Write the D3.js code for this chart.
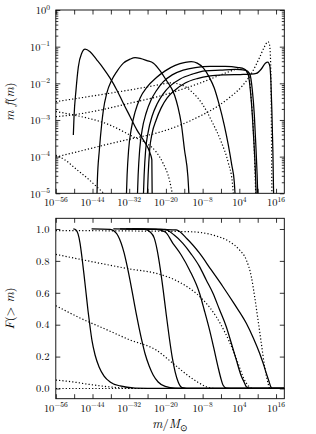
<!DOCTYPE html>
<html>
<head>
<meta charset="utf-8">
<script src="https://cdn.jsdelivr.net/npm/d3@7"></script>
<style>
  body { margin: 0; background: #fff; }
  svg { display: block; }
  text { font-family: 'Latin Modern Roman', 'Liberation Serif', serif; fill: #000; }
</style>
</head>
<body>
<svg id="chart" width="316" height="434"></svg>
<script>
// all pairs are [log10(m/Msun), value]; top panel value is log10(m f(m)), bottom is F(>m)

// top panel, solid lines
var mfA = [[-50.27,-3.41],[-50.04,-2.91],[-49.39,-2.18],[-48.63,-1.55],[-47.52,-1.18],[-46.44,-1.07],[-44.8,-1.14],[-42.61,-1.36],[-40.45,-1.59],[-38.25,-1.86],[-36.06,-2.18],[-33.9,-2.55],[-31.7,-2.91],[-29.51,-3.27],[-27.35,-3.55],[-25.16,-3.91],[-24.6,-4.09],[-24.45,-5.5]];
var mfB = [[-42.7,-5.5],[-42.41,-4.64],[-41.76,-3.82],[-40.97,-3.09],[-40.45,-2.73],[-39.33,-2.27],[-37.7,-1.91],[-36.06,-1.68],[-33.9,-1.45],[-31.7,-1.34],[-30.07,-1.30],[-28.43,-1.32],[-26.24,-1.38],[-24.07,-1.45],[-21.88,-1.66],[-19.92,-1.91],[-17.2,-2.32],[-16.08,-2.64],[-15.0,-3.09],[-13.92,-3.82],[-12.81,-4.55],[-12.2,-5.5]];
var mfC = [[-33.1,-5.5],[-32.69,-4.50],[-32.20,-3.82],[-31.38,-3.27],[-30.07,-2.78],[-28.43,-2.40],[-26.14,-2.10],[-23.19,-1.85],[-20.24,-1.66],[-16.97,-1.51],[-13.69,-1.43],[-11.73,-1.41],[-9.77,-1.45],[-7.80,-1.58],[-5.84,-1.83],[-4.20,-2.13],[-2.56,-2.59],[-0.93,-3.14],[0.39,-3.68],[1.53,-4.23],[2.35,-4.69],[2.9,-5.5]];
var mfD = [[-29.5,-5.5],[-29.08,-4.50],[-28.59,-3.82],[-27.77,-3.27],[-26.46,-2.81],[-24.83,-2.45],[-23.19,-2.21],[-20.90,-1.96],[-17.95,-1.77],[-14.35,-1.64],[-10.42,-1.57],[-5.51,-1.54],[-0.60,-1.54],[3.66,-1.57],[5.62,-1.61],[6.93,-1.77],[7.59,-2.18],[8.24,-2.86],[8.73,-3.55],[9.23,-4.36],[9.7,-5.5]];
var mfE = [[-27.55,-5.5],[-27.12,-4.50],[-26.63,-3.82],[-25.81,-3.33],[-24.50,-2.89],[-22.86,-2.56],[-20.90,-2.29],[-18.61,-2.07],[-15.33,-1.88],[-11.40,-1.75],[-7.15,-1.66],[-2.23,-1.64],[2.68,-1.62],[5.95,-1.64],[7.43,-1.75],[8.24,-2.18],[8.90,-2.86],[9.39,-3.68],[9.82,-4.50],[10.2,-5.5]];
var mfF = [[-26.25,-5.5],[-25.81,-4.50],[-25.32,-3.82],[-24.50,-3.36],[-23.19,-3.00],[-21.55,-2.67],[-19.59,-2.40],[-16.97,-2.18],[-13.69,-1.99],[-9.77,-1.87],[-5.51,-1.80],[-0.60,-1.77],[4.31,-1.76],[7.59,-1.75],[9.55,-1.73],[11.19,-1.61],[12.50,-1.45],[13.32,-1.42],[13.97,-1.53],[14.30,-1.91],[14.63,-2.73],[14.96,-3.82],[15.3,-5.5]];

// top panel, dotted lines
var mfDot1 = [[-56,-2.50],[-48.08,-2.40],[-39.89,-2.29],[-31.70,-2.18],[-22.96,-2.05],[-18.61,-1.99],[-14.68,-2.05],[-11.40,-2.24],[-8.13,-2.56],[-4.85,-3.06],[-1.91,-3.60],[0.39,-4.17],[1.69,-4.69],[2.5,-5.5]];
var mfDot2 = [[-56,-2.91],[-50.37,-2.86],[-41.53,-2.73],[-31.70,-2.54],[-22.96,-2.37],[-15.33,-2.18],[-8.78,-1.99],[-3.87,-1.83],[0.39,-1.69],[3.66,-1.61],[5.95,-1.64],[7.26,-1.85],[7.91,-2.45],[8.57,-3.27],[9.06,-4.23],[9.5,-5.5]];
var mfDot3 = [[-56,-2.77],[-50.37,-2.86],[-38.25,-3.14],[-30.62,-3.46],[-26.24,-3.64],[-23.19,-3.87],[-21.0,-4.17],[-18.84,-4.64],[-16.9,-5.5]];
var mfDot4 = [[-56,-4.01],[-48.08,-3.85],[-39.89,-3.68],[-31.70,-3.52],[-23.19,-3.36],[-15.33,-3.14],[-8.78,-2.89],[-3.54,-2.65],[1.04,-2.37],[4.97,-2.07],[8.24,-1.69],[10.54,-1.31],[12.17,-1.01],[13.39,-0.865],[13.81,-0.93],[14.14,-1.23],[14.33,-1.91],[14.47,-3.00],[14.56,-4.09],[14.7,-5.5]];
var mfDot5 = [[-56,-3.96],[-52.99,-4.09],[-49.06,-4.36],[-45.78,-4.58],[-42.51,-4.83],[-39.0,-5.1]];

// bottom panel, solid lines
var cfA = [[-50.27,1.0],[-49.39,0.994],[-48.73,0.969],[-48.08,0.912],[-47.42,0.818],[-46.77,0.712],[-46.11,0.599],[-45.46,0.486],[-44.80,0.386],[-44.15,0.298],[-43.16,0.210],[-41.85,0.135],[-40.22,0.078],[-38.25,0.041],[-34.98,0.016],[-30.07,0.003],[-21.88,0],[18.7,0]];
var cfB = [[-44.3,1.0],[-38.25,0.997],[-36.94,0.987],[-35.63,0.956],[-34.65,0.912],[-33.67,0.850],[-32.69,0.768],[-31.70,0.674],[-30.72,0.574],[-29.74,0.473],[-28.76,0.379],[-27.77,0.292],[-26.79,0.216],[-25.48,0.141],[-24.17,0.085],[-22.54,0.041],[-20.24,0.013],[-16.97,0.002],[-8.78,0],[18.7,0]];
var cfC = [[-37.2,1.0],[-26.79,0.997],[-25.16,0.981],[-23.84,0.944],[-22.86,0.868],[-21.88,0.755],[-20.90,0.618],[-19.92,0.467],[-18.93,0.323],[-17.95,0.197],[-16.97,0.103],[-15.99,0.041],[-14.68,0.006],[-12.06,0],[18.7,0]];
var cfD = [[-35,1.0],[-23.19,0.997],[-20.24,0.981],[-17.72,0.910],[-15.0,0.837],[-12.29,0.743],[-9.01,0.597],[-7.47,0.492],[-5.74,0.367],[-4.36,0.254],[-2.99,0.137],[-2.07,0.066],[-1.35,0.022],[-0.27,0.003],[2.68,0],[18.7,0]];
var cfE = [[-33,1.0],[-21.88,0.997],[-19.92,0.994],[-17.30,0.962],[-14.45,0.910],[-11.73,0.843],[-9.01,0.764],[-6.82,0.680],[-4.62,0.597],[-2.56,0.498],[-0.27,0.387],[1.37,0.285],[3.01,0.179],[4.64,0.078],[5.62,0.038],[6.28,0.011],[7.59,0.001],[10.21,0],[18.7,0]];
var cfF = [[-31,1.0],[-20.24,0.997],[-16.64,0.994],[-13.04,0.937],[-9.01,0.848],[-5.18,0.743],[-1.35,0.638],[2.35,0.530],[6.28,0.409],[8.57,0.317],[10.63,0.221],[11.85,0.154],[12.83,0.095],[13.65,0.047],[14.24,0.013],[14.79,0],[18.7,0]];

// bottom panel, dotted lines
var cfDot1 = [[-56,0.841],[-41.53,0.785],[-31.70,0.749],[-23.19,0.722],[-16.97,0.680],[-12.29,0.628],[-7.80,0.555],[-3.54,0.450],[-0.60,0.348],[1.92,0.241],[3.66,0.154],[5.20,0.074],[6.61,0.025],[8.47,0],[18.7,0]];
var cfDot2 = [[-56,0],[18.7,0]];
var cfDot3 = [[-56,0.519],[-48.08,0.442],[-39.89,0.373],[-31.70,0.304],[-23.19,0.241],[-17.72,0.158],[-12.29,0.074],[-9.44,0.038],[-6.82,0.011],[-3.87,0],[18.7,0]];
var cfDot4 = [[-56,0.99],[-23.19,0.986],[-12.29,0.983],[-4.62,0.962],[0.81,0.920],[4.09,0.868],[6.28,0.806],[7.92,0.701],[9.0,0.576],[10.11,0.429],[11.19,0.283],[12.27,0.137],[13.39,0.033],[13.91,0],[18.7,0]];
var cfDot5 = [[-56,0.053],[-50.37,0.041],[-44.80,0.025],[-39.89,0.013],[-34.98,0.004],[-30.07,0],[18.7,0]];

// ticks
var xTickExp = d3.range(-56, 17, 6);
var xLabelExp = [-56, -44, -32, -20, -8, 4, 16];
var yTopExp = [0, -1, -2, -3, -4, -5];
var yBotTicks = [0.0, 0.2, 0.4, 0.6, 0.8, 1.0];

var topSolid = [mfA, mfB, mfC, mfD, mfE, mfF],
  topDotted = [mfDot1, mfDot2, mfDot3, mfDot4, mfDot5],
  botSolid = [cfA, cfB, cfC, cfD, cfE, cfF],
  botDotted = [cfDot1, cfDot2, cfDot3, cfDot4, cfDot5];

var left = 55.8, right = 284.3;
var top1 = 10, bot1 = 193.3;
var top2 = 218.3, bot2 = 398.7;

var p10 = function (e) { return Math.pow(10, e) };
var minus = function (n) { return String(n).replace('-', '\u2212') };

var x = d3.scaleLog()
  .domain([1e-56, p10(18.7)])
  .range([left, right])

var yTop = d3.scaleLog()
  .domain([1e-5, 1])
  .range([bot1, top1])

var yBot = d3.scaleLinear()
  .domain([-0.064, 1.067])
  .range([bot2, top2])

var svg = d3.select('#chart');

var defs = svg.append('defs');
defs.append('clipPath').attr('id', 'clipTop')
  .append('rect').attr('x', left).attr('y', top1).attr('width', right - left).attr('height', bot1 - top1);
defs.append('clipPath').attr('id', 'clipBot')
  .append('rect').attr('x', left).attr('y', top2).attr('width', right - left).attr('height', bot2 - top2);

var lineTop = d3.line()
  .curve(d3.curveMonotoneX)
  .x(function (d) { return x(p10(d[0])) })
  .y(function (d) { return yTop(p10(d[1])) })

var lineBot = d3.line()
  .curve(d3.curveMonotoneX)
  .x(function (d) { return x(p10(d[0])) })
  .y(function (d) { return yBot(d[1]) })

function drawLines(clip, series, line, dotted) {
  var g = svg.append('g').attr('clip-path', 'url(#' + clip + ')');
  g.selectAll('path').data(series).enter().append('path')
    .attr('d', line)
    .style('fill', 'none')
    .style('stroke', '#000')
    .style('stroke-width', dotted ? 1.2 : 1.25)
    .style('stroke-dasharray', dotted ? '1.2,2.1' : null)
    .style('stroke-linejoin', 'round');
}

drawLines('clipTop', topDotted, lineTop, true);
drawLines('clipTop', topSolid, lineTop, false);
drawLines('clipBot', botDotted, lineBot, true);
drawLines('clipBot', botSolid, lineBot, false);

// axes, ticks pointing inward on every side
function styleAxis(g) {
  g.select('.domain').remove();
  g.selectAll('.tick line').attr('stroke', '#000').attr('stroke-width', 0.8);
  g.selectAll('.tick text').remove();
}

var xTicks = xTickExp.map(p10);
var minorTop = [];
d3.range(-5, 0).forEach(function (e) {
  for (var k = 2; k < 10; k++) minorTop.push(k * p10(e));
});

function xAxes(yb, yt) {
  svg.append('g').attr('transform', 'translate(0,' + yb + ')')
    .call(d3.axisBottom(x).tickValues(xTicks).tickSize(-4.5)).call(styleAxis);
  svg.append('g').attr('transform', 'translate(0,' + yt + ')')
    .call(d3.axisTop(x).tickValues(xTicks).tickSize(-4.5)).call(styleAxis);

  var lab = svg.append('g');
  xLabelExp.forEach(function (e) {
    var t = lab.append('text')
      .attr('x', x(p10(e)))
      .attr('y', yb + 13)
      .attr('text-anchor', 'middle')
      .style('font-size', '10.5px');
    t.append('tspan').text('10');
    t.append('tspan').attr('dy', -4.5).style('font-size', '7.5px').text(minus(e));
  });
}

xAxes(bot1, top1);
xAxes(bot2, top2);

// top panel y axis
svg.append('g').attr('transform', 'translate(' + left + ',0)')
  .call(d3.axisLeft(yTop).tickValues(yTopExp.map(p10)).tickSize(-4.5)).call(styleAxis);
svg.append('g').attr('transform', 'translate(' + left + ',0)')
  .call(d3.axisLeft(yTop).tickValues(minorTop).tickSize(-2.5)).call(styleAxis);
svg.append('g').attr('transform', 'translate(' + right + ',0)')
  .call(d3.axisRight(yTop).tickValues(yTopExp.map(p10)).tickSize(-4.5)).call(styleAxis);
svg.append('g').attr('transform', 'translate(' + right + ',0)')
  .call(d3.axisRight(yTop).tickValues(minorTop).tickSize(-2.5)).call(styleAxis);

yTopExp.forEach(function (e) {
  var t = svg.append('text')
    .attr('x', 50)
    .attr('y', yTop(p10(e)) + 4.2)
    .attr('text-anchor', 'end')
    .style('font-size', '10.5px');
  t.append('tspan').text('10');
  t.append('tspan').attr('dy', -4.5).style('font-size', '7.5px').text(minus(e));
});

// bottom panel y axis
svg.append('g').attr('transform', 'translate(' + left + ',0)')
  .call(d3.axisLeft(yBot).tickValues(yBotTicks).tickSize(-4.5)).call(styleAxis);
svg.append('g').attr('transform', 'translate(' + right + ',0)')
  .call(d3.axisRight(yBot).tickValues(yBotTicks).tickSize(-4.5)).call(styleAxis);

yBotTicks.forEach(function (v) {
  svg.append('text')
    .attr('x', 49.5)
    .attr('y', yBot(v) + 3.8)
    .attr('text-anchor', 'end')
    .style('font-size', '10.5px')
    .text(d3.format('.1f')(v));
});

// frames
[[top1, bot1], [top2, bot2]].forEach(function (p) {
  svg.append('rect')
    .attr('x', left).attr('y', p[0])
    .attr('width', right - left).attr('height', p[1] - p[0])
    .style('fill', 'none').style('stroke', '#000').style('stroke-width', 0.9);
});

// axis titles
var yl1 = svg.append('text')
  .attr('transform', 'translate(14,' + ((top1 + bot1) / 2) + ')rotate(-90)')
  .attr('text-anchor', 'middle')
  .style('font-size', '12.5px')
  .style('font-style', 'italic');
yl1.append('tspan').text('m f');
yl1.append('tspan').style('font-style', 'normal').text('(');
yl1.append('tspan').text('m');
yl1.append('tspan').style('font-style', 'normal').text(')');

var yl2 = svg.append('text')
  .attr('transform', 'translate(14,' + ((top2 + bot2) / 2) + ')rotate(-90)')
  .attr('text-anchor', 'middle')
  .style('font-size', '12.5px');
yl2.append('tspan').style('font-style', 'italic').text('F');
yl2.append('tspan').text('(> ');
yl2.append('tspan').style('font-style', 'italic').text('m');
yl2.append('tspan').text(')');

var xl = svg.append('text')
  .attr('x', (left + right) / 2)
  .attr('y', 428)
  .attr('text-anchor', 'middle')
  .style('font-size', '12.5px');
xl.append('tspan').style('font-style', 'italic').text('m');
xl.append('tspan').text('/');
xl.append('tspan').style('font-style', 'italic').text('M');
xl.append('tspan').attr('dy', 2.5).style('font-size', '8.5px').text('\u2299');
</script>
</body>
</html>
